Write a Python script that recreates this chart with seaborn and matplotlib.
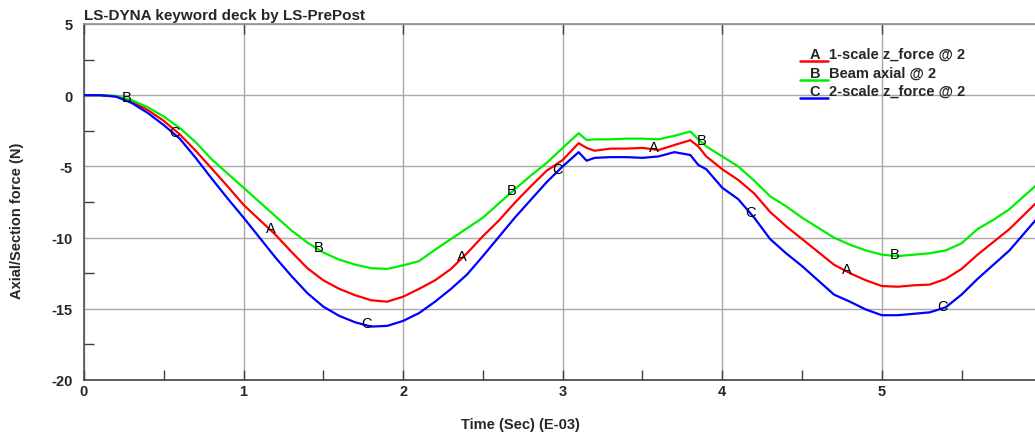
import numpy as np
import pandas as pd
import seaborn as sns
import matplotlib.pyplot as plt
from matplotlib.lines import Line2D

# time in E-03 sec
time = [0, 0.1, 0.2, 0.3, 0.4, 0.5, 0.6, 0.7, 0.8, 0.9, 1.0, 1.1, 1.2, 1.3, 1.4,
        1.5, 1.6, 1.7, 1.8, 1.9, 2.0, 2.1, 2.2, 2.3, 2.4, 2.5, 2.6, 2.7, 2.8, 2.9,
        3.0, 3.1, 3.15, 3.2, 3.3, 3.4, 3.5, 3.6, 3.7, 3.8, 3.85, 3.9, 4.0, 4.1,
        4.2, 4.3, 4.4, 4.5, 4.6, 4.7, 4.8, 4.9, 5.0, 5.1, 5.2, 5.3, 5.4, 5.5,
        5.6, 5.7, 5.8, 5.9, 6.0]

scale1_z = [0, 0, -0.08, -0.45, -1.05, -1.8, -2.75, -3.9, -5.15, -6.4, -7.7,
            -8.75, -9.8, -11.0, -12.15, -13.0, -13.6, -14.05, -14.4, -14.5,
            -14.15, -13.6, -13.0, -12.2, -11.1, -9.9, -8.8, -7.55, -6.4, -5.3,
            -4.55, -3.37, -3.7, -3.9, -3.75, -3.75, -3.7, -3.85, -3.5, -3.16,
            -3.6, -4.3, -5.2, -5.95, -6.9, -8.2, -9.2, -10.1, -11.0, -11.9,
            -12.5, -13.0, -13.4, -13.45, -13.35, -13.3, -12.9, -12.2, -11.2,
            -10.3, -9.4, -8.3, -7.2]

beam_axial = [0, 0, -0.05, -0.35, -0.85, -1.5, -2.3, -3.3, -4.5, -5.5, -6.5,
              -7.5, -8.5, -9.5, -10.35, -11.05, -11.55, -11.9, -12.15, -12.2,
              -11.95, -11.65, -10.85, -10.1, -9.35, -8.6, -7.6, -6.6, -5.65,
              -4.75, -3.7, -2.67, -3.15, -3.1, -3.1, -3.05, -3.05, -3.1, -2.85,
              -2.55, -3.1, -3.6, -4.3, -5.0, -6.0, -7.1, -7.8, -8.6, -9.3,
              -10.0, -10.5, -10.9, -11.2, -11.3, -11.2, -11.1, -10.9, -10.4,
              -9.4, -8.75, -8.0, -7.0, -6.0]

scale2_z = [0, 0, -0.1, -0.55, -1.25, -2.1, -3.05, -4.4, -5.85, -7.25, -8.6,
            -10.0, -11.4, -12.7, -13.9, -14.85, -15.5, -15.95, -16.25, -16.2,
            -15.85, -15.3, -14.5, -13.6, -12.6, -11.3, -9.95, -8.6, -7.35,
            -6.1, -5.0, -4.0, -4.6, -4.4, -4.35, -4.35, -4.4, -4.3, -4.0, -4.2,
            -4.9, -5.2, -6.5, -7.3, -8.6, -10.1, -11.1, -12.0, -13.0, -14.0,
            -14.5, -15.05, -15.45, -15.45, -15.35, -15.25, -14.9, -14.0, -12.9,
            -11.9, -10.9, -9.6, -8.3]

series_names = ["1-scale z_force @ 2", "Beam axial @ 2", "2-scale z_force @ 2"]
series_letters = ["A", "B", "C"]
series_colors = ["#ff0000", "#00ee00", "#0000ff"]
series_values = [scale1_z, beam_axial, scale2_z]

# letter tags along each curve
tag_times = {
    "A": [1.17, 2.37, 3.57, 4.78],
    "B": [0.27, 1.47, 2.68, 3.87, 5.08],
    "C": [0.57, 1.77, 2.97, 4.18, 5.38],
}

df = pd.concat([pd.DataFrame({"time": time, "force": vals, "series": name})
                for name, vals in zip(series_names, series_values)])

sns.set_style("white")
plt.rcParams["font.family"] = ["Liberation Sans", "DejaVu Sans"]
plt.rcParams["axes.unicode_minus"] = False

fig = plt.figure(figsize=(10.35, 4.39), dpi=100)
ax = fig.add_axes([84 / 1035, 1 - 381 / 439, 1 - 84 / 1035, (381 - 25) / 439])

sns.lineplot(data=df, x="time", y="force", hue="series", hue_order=series_names,
             palette=series_colors, estimator=None, sort=False, linewidth=1.6,
             legend=False, ax=ax, zorder=3)

for letter, vals in zip(series_letters, series_values):
    for t in tag_times[letter]:
        ax.text(t, np.interp(t, time, vals) + 0.15, letter, ha="center",
                va="center", fontsize=10.5, color="black", zorder=4)

ax.set_xlim(0, 5.96)
ax.set_ylim(-20, 5)
ax.set_xticks(range(0, 6))
ax.set_yticks(range(-20, 6, 5))
ax.set_xticks(np.arange(0.5, 6, 1), minor=True)
ax.set_yticks(np.arange(-17.5, 5, 5), minor=True)
ax.grid(True, which="major", color="#a8a8a8", linewidth=1)

for lab in ax.get_xticklabels() + ax.get_yticklabels():
    lab.set_fontweight("bold")
    lab.set_fontsize(10.5)
ax.tick_params(axis="y", which="major", direction="out", length=7, width=1,
               color="#404040", pad=1)
ax.tick_params(axis="y", which="minor", direction="in", length=7, width=1,
               color="#404040", left=True)
ax.tick_params(axis="x", which="both", direction="in", length=7, width=1,
               color="#404040", bottom=True, top=False, pad=3)
ax.tick_params(axis="x", which="major", top=True)

ax.spines["left"].set_color("#505050")
ax.spines["bottom"].set_color("#404040")
ax.spines["top"].set_color("#909090")
ax.spines["right"].set_visible(False)
for s in ["left", "bottom", "top"]:
    ax.spines[s].set_linewidth(1.2)

ax.set_xlabel("")
ax.set_ylabel("")
fig.text(520 / 1035, 1 - 425 / 439, "Time (Sec) (E-03)", ha="center",
         va="center", fontsize=10.5, fontweight="bold")
fig.text(17 / 1035, 1 - 221 / 439, "Axial/Section force (N)", ha="center",
         va="center", rotation=90, fontsize=10.5, fontweight="bold")
fig.text(84 / 1035, 1 - 20 / 439, "LS-DYNA keyword deck by LS-PrePost",
         ha="left", va="baseline", fontsize=11, fontweight="bold")

# legend block, top right
for i, (letter, name, col) in enumerate(zip(series_letters, series_names, series_colors)):
    yrow = 1 - (55 + 18.5 * i) / 439
    fig.add_artist(Line2D([800 / 1035, 828 / 1035], [yrow - 7 / 439] * 2,
                          color=col, linewidth=1.8))
    fig.text(815 / 1035, yrow, letter, ha="center", va="center",
             fontsize=10.5, fontweight="bold")
    fig.text(829 / 1035, yrow, name, ha="left", va="center",
             fontsize=10.5, fontweight="bold")

fig.savefig("out.png", dpi=100)
